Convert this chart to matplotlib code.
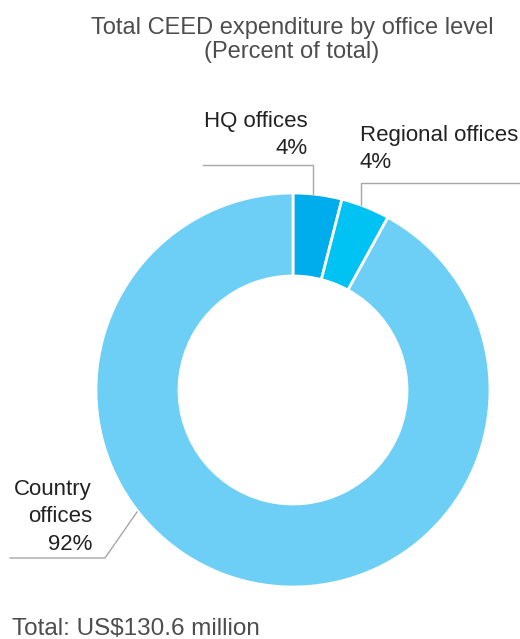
import numpy as np
import matplotlib
matplotlib.use("Agg")
import matplotlib.pyplot as plt

plt.rcParams['font.family'] = ['Liberation Sans', 'DejaVu Sans']

categories = ["HQ offices", "Regional offices", "Country offices"]
shares = [4, 4, 92]
colors = ["#00adec", "#00c2f3", "#6dcff6"]

W, H = 520, 639
fig = plt.figure(figsize=(W / 100, H / 100), dpi=100)
ax = fig.add_axes([0, 0, 1, 1])

cx, cy, R = 293, H - 390, 197
wedges, _ = ax.pie(shares, colors=colors, startangle=90, counterclock=False,
                   radius=R, center=(cx, cy), frame=True,
                   wedgeprops=dict(width=R - 114, edgecolor='white', linewidth=2))
ax.set_xlim(0, W)
ax.set_ylim(0, H)
ax.set_aspect('equal')
ax.axis('off')

def leader_x(w):
    ang = np.deg2rad((w.theta1 + w.theta2) / 2)
    return cx + R * np.cos(ang) - 5

def ring_top(x):
    return cy + np.sqrt(R ** 2 - (x - cx) ** 2)

line_kw = dict(color='#a6a6a6', lw=1)
txt = '#222222'
fs = 16

# HQ offices
x0 = leader_x(wedges[0])
ax.plot([203, x0, x0], [H - 165, H - 165, ring_top(x0)], **line_kw)
ax.text(308, H - 121, categories[0], ha='right', va='center', fontsize=fs, color=txt)
ax.text(308, H - 148, f"{shares[0]}%", ha='right', va='center', fontsize=fs, color=txt)

# Regional offices
x1 = leader_x(wedges[1])
ax.plot([520, x1, x1], [H - 183, H - 183, ring_top(x1)], **line_kw)
ax.text(360, H - 136, categories[1], ha='left', va='center', fontsize=fs, color=txt)
ax.text(360, H - 163, f"{shares[1]}%", ha='left', va='center', fontsize=fs, color=txt)

# Country offices
ax.plot([10, 105, 137], [H - 558, H - 558, H - 512], **line_kw)
ax.text(92, H - 490, "Country", ha='right', va='center', fontsize=fs, color=txt)
ax.text(92, H - 516, "offices", ha='right', va='center', fontsize=fs, color=txt)
ax.text(92, H - 544, f"{shares[2]}%", ha='right', va='center', fontsize=fs, color=txt)

# Title and footnote
ax.text(292, H - 28, "Total CEED expenditure by office level", ha='center', va='center',
        fontsize=17, color='#4d4d4d')
ax.text(292, H - 52, "(Percent of total)", ha='center', va='center',
        fontsize=17, color='#4d4d4d')
ax.text(12, H - 629, "Total: US$130.6 million", ha='left', va='center',
        fontsize=17.5, color='#4d4d4d')

fig.savefig("out.png", dpi=100)
